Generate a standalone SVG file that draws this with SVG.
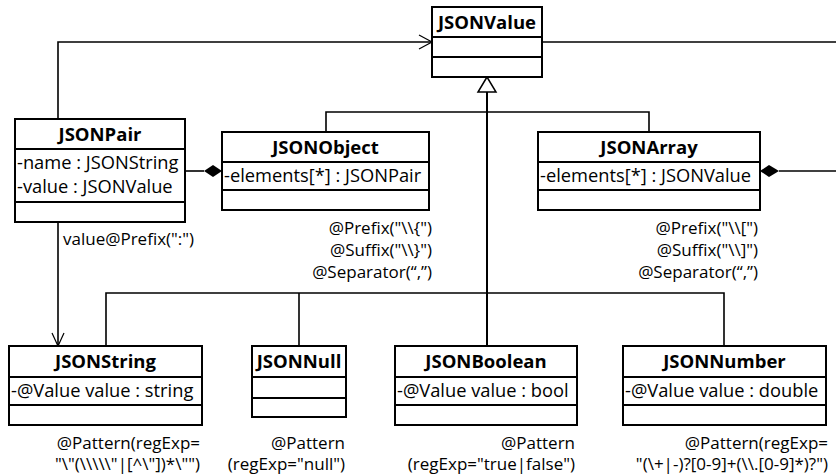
<svg xmlns="http://www.w3.org/2000/svg" width="836" height="476" viewBox="0 0 836 476">
<style>
.box{fill:#fff;stroke:#000;stroke-width:2}
.div{stroke:#000;stroke-width:2}
.t{font-family:"Open Sans","Liberation Sans",sans-serif;font-size:18.5px;font-weight:bold;text-anchor:middle;fill:#000}
.a{font-family:"Open Sans","Liberation Sans",sans-serif;font-size:18.3px;fill:#000}
.r{font-family:"Open Sans","Liberation Sans",sans-serif;font-size:17px;fill:#000;text-anchor:end}
.ln{fill:none;stroke:#000;stroke-width:1.6}
.open{fill:none;stroke:#000;stroke-width:1.2}
</style>
<rect width="836" height="476" fill="#fff"/>
<g id="connectors">
<polyline class="ln" points="58,119 58,42 432,42"/>
<polyline class="open" points="419,35 432,42 419,49"/>
<polyline class="ln" points="542,42 836,42"/>
<polyline class="ln" points="185,171 204,171"/>
<polygon points="204,171 213,165 222,171 213,177" fill="#000"/>
<polyline class="ln" points="779,171 836,171"/>
<polygon points="760,171 769,165 779,171 769,177" fill="#000"/>
<polyline class="ln" points="326,132 326,112 649,112 649,132"/>
<polyline class="ln" points="487,92 487,346" style="stroke-width:2"/>
<polygon points="487,77 478,92 496,92" fill="#fff" stroke="#000" stroke-width="1.5"/>
<polyline class="ln" points="106,346 106,293 724,293 724,346"/>
<polyline class="ln" points="299,293 299,346"/>
<polyline class="ln" points="58,222 58,346"/>
<polyline class="open" points="52,333 58,346 64,333"/>
<text class="r" x="213" y="245" style="text-anchor:start" transform="translate(-150,0)">value@Prefix(":")</text>
<text class="r" x="432" y="234">@Prefix("\\{")</text>
<text class="r" x="432" y="256">@Suffix("\\}")</text>
<text class="r" x="432" y="278">@Separator(“,”)</text>
<text class="r" x="758" y="234">@Prefix("\\[")</text>
<text class="r" x="758" y="256">@Suffix("\\]")</text>
<text class="r" x="758" y="278">@Separator(“,”)</text>
</g>
<g id="JSONValue">
<rect class="box" x="432" y="7" width="110" height="70"/>
<line class="div" x1="432" y1="37" x2="542" y2="37"/>
<line class="div" x1="432" y1="57" x2="542" y2="57"/>
<text class="t" x="487" y="29">JSONValue</text>
</g>
<g id="JSONPair">
<rect class="box" x="15" y="119" width="170" height="103"/>
<line class="div" x1="15" y1="149" x2="185" y2="149"/>
<line class="div" x1="15" y1="202" x2="185" y2="202"/>
<text class="t" x="100" y="141">JSONPair</text>
<text class="a" x="17" y="169">-name : JSONString</text>
<text class="a" x="17" y="193">-value : JSONValue</text>
</g>
<g id="JSONObject">
<rect class="box" x="222" y="132" width="207" height="78"/>
<line class="div" x1="222" y1="162" x2="429" y2="162"/>
<line class="div" x1="222" y1="190" x2="429" y2="190"/>
<text class="t" x="325.5" y="154">JSONObject</text>
<text class="a" x="224" y="182">-elements[*] : JSONPair</text>
</g>
<g id="JSONArray">
<rect class="box" x="538" y="132" width="222" height="78"/>
<line class="div" x1="538" y1="162" x2="760" y2="162"/>
<line class="div" x1="538" y1="190" x2="760" y2="190"/>
<text class="t" x="649" y="154">JSONArray</text>
<text class="a" x="540" y="182">-elements[*] : JSONValue</text>
</g>
<g id="JSONString">
<rect class="box" x="9" y="346" width="193" height="79"/>
<line class="div" x1="9" y1="377" x2="202" y2="377"/>
<line class="div" x1="9" y1="405" x2="202" y2="405"/>
<text class="t" x="105.5" y="368">JSONString</text>
<text class="a" x="11" y="397">-@Value value : string</text>
<text class="r" x="200" y="449">@Pattern(regExp=</text>
<text class="r" x="200" y="470">"\"(\\\\\"|[^\"])*\"")</text>
</g>
<g id="JSONNull">
<rect class="box" x="252" y="346" width="94" height="71"/>
<line class="div" x1="252" y1="377" x2="346" y2="377"/>
<line class="div" x1="252" y1="398" x2="346" y2="398"/>
<text class="t" x="299" y="368">JSONNull</text>
<text class="r" x="345" y="449">@Pattern</text>
<text class="r" x="345" y="470">(regExp="null")</text>
</g>
<g id="JSONBoolean">
<rect class="box" x="395" y="346" width="182" height="79"/>
<line class="div" x1="395" y1="377" x2="577" y2="377"/>
<line class="div" x1="395" y1="405" x2="577" y2="405"/>
<text class="t" x="486" y="368">JSONBoolean</text>
<text class="a" x="397" y="397">-@Value value : bool</text>
<text class="r" x="575" y="449">@Pattern</text>
<text class="r" x="575" y="470">(regExp="true|false")</text>
</g>
<g id="JSONNumber">
<rect class="box" x="623" y="346" width="203" height="79"/>
<line class="div" x1="623" y1="377" x2="826" y2="377"/>
<line class="div" x1="623" y1="405" x2="826" y2="405"/>
<text class="t" x="724.5" y="368">JSONNumber</text>
<text class="a" x="625" y="397">-@Value value : double</text>
<text class="r" x="828" y="449">@Pattern(regExp=</text>
<text class="r" x="828" y="470">"(\+|-)?[0-9]+(\\.[0-9]*)?")</text>
</g>
</svg>
